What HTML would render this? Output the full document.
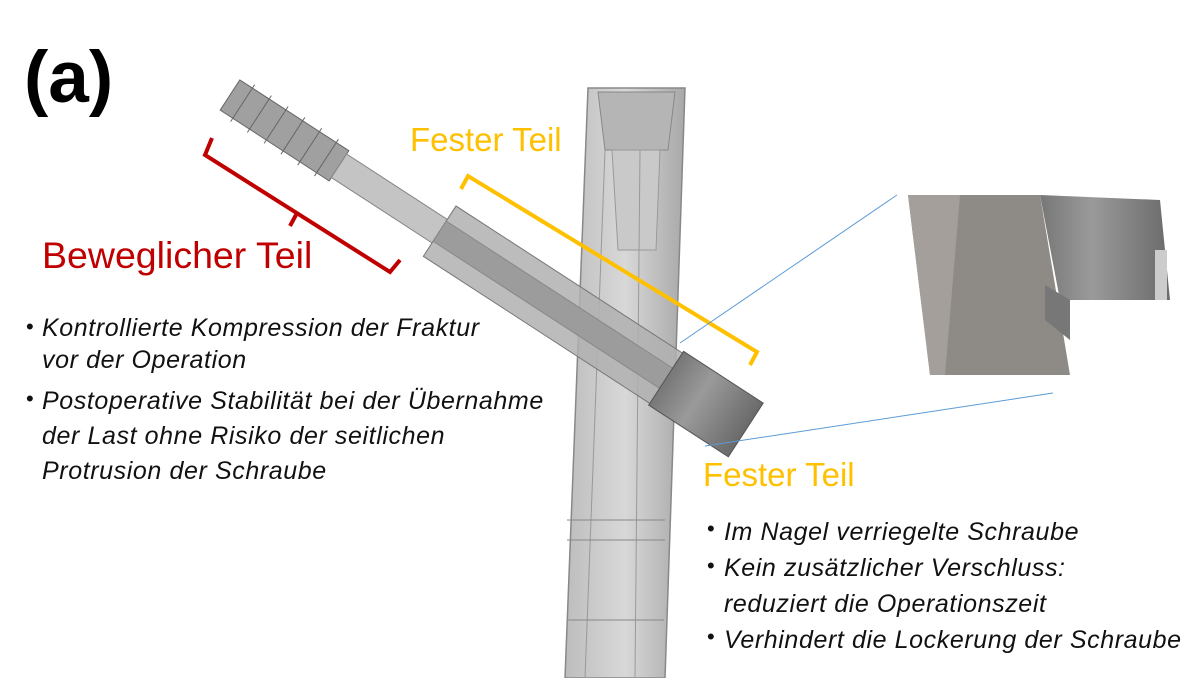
<!DOCTYPE html>
<html><head><meta charset="utf-8"><style>
body{margin:0;width:1204px;height:678px;background:#fff;position:relative;overflow:hidden;font-family:"Liberation Sans",sans-serif}
.t{position:absolute;white-space:nowrap}
.b{font-style:italic;font-size:25px;letter-spacing:0.6px;color:#111;line-height:32px}
.d{position:absolute;font-size:22px;color:#111}
</style></head><body>
<svg width="1204" height="678" style="position:absolute;left:0;top:0">
<defs>
<linearGradient id="g1" x1="0" x2="1"><stop offset="0" stop-color="#bdbdbd"/><stop offset=".5" stop-color="#d8d8d8"/><stop offset="1" stop-color="#a8a8a8"/></linearGradient>
<linearGradient id="g2" x1="0" x2="1"><stop offset="0" stop-color="#777"/><stop offset=".4" stop-color="#9a9a9a"/><stop offset="1" stop-color="#6a6a6a"/></linearGradient>
</defs>
<polygon points="588,88 685,88 665,678 565,678" fill="url(#g1)" stroke="#888" stroke-width="1.5"/>
<polygon points="598,92 675,92 668,150 605,150" fill="#b5b5b5" stroke="#888"/>
<polygon points="612,150 660,150 656,250 618,250" fill="#c9c9c9" stroke="#999"/>
<line x1="605" y1="150" x2="585" y2="678" stroke="#999"/>
<line x1="640" y1="150" x2="635" y2="678" stroke="#999"/>
<line x1="567" y1="520" x2="665" y2="520" stroke="#888"/>
<line x1="567" y1="540" x2="665" y2="540" stroke="#888"/>
<line x1="568" y1="620" x2="664" y2="620" stroke="#888"/>
<g transform="translate(230,95) rotate(33)">
<rect x="0" y="-18" width="130" height="36" fill="#a0a0a0" stroke="#666"/>
<g stroke="#666" fill="none">
<line x1="15" y1="-22" x2="15" y2="22"/><line x1="35" y1="-22" x2="35" y2="22"/><line x1="55" y1="-22" x2="55" y2="22"/><line x1="75" y1="-22" x2="75" y2="22"/><line x1="95" y1="-22" x2="95" y2="22"/><line x1="115" y1="-22" x2="115" y2="22"/>
</g>
<rect x="130" y="-14" width="120" height="28" fill="#c4c4c4" stroke="#888"/>
<rect x="250" y="-30" width="280" height="60" fill="#b0b0b0" fill-opacity=".85" stroke="#777"/>
<rect x="250" y="-12" width="280" height="24" fill="#9c9c9c" stroke="#888"/>
<rect x="520" y="-32" width="95" height="64" fill="url(#g2)" stroke="#555"/>
</g>
<polyline points="212,138 205,155 390,272 400,260" fill="none" stroke="#c00000" stroke-width="4"/>
<line x1="297" y1="213" x2="290" y2="226" stroke="#c00000" stroke-width="4"/>
<polyline points="461,189 468,176 757,352 750,365" fill="none" stroke="#ffc000" stroke-width="4"/>
<line x1="680" y1="343" x2="897" y2="195" stroke="#5b9bd5" stroke-width="1"/>
<line x1="705" y1="446" x2="1053" y2="393" stroke="#5b9bd5" stroke-width="1"/>
<rect x="908" y="195" width="277" height="180" fill="#fff"/>
<polygon points="908,195 1040,195 1070,375 930,375" fill="#8e8a86"/>
<polygon points="908,195 960,195 945,375 930,375" fill="#a49f9a"/>
<polygon points="1040,195 1160,200 1170,300 1060,300" fill="url(#g2)"/>
<rect x="1155" y="250" width="12" height="50" fill="#ccc"/>
<polygon points="1045,285 1070,300 1070,340 1045,320" fill="#777"/>
</svg>
<div class="t" style="left:24px;top:36px;font-size:73px;font-weight:bold;color:#000">(a)</div>
<div class="t" style="left:410px;top:121px;font-size:33px;color:#ffc000">Fester Teil</div>
<div class="t" style="left:42px;top:234px;font-size:37.5px;color:#c00000">Beweglicher Teil</div>
<div class="t" style="left:703px;top:456px;font-size:33px;color:#ffc000">Fester Teil</div>
<div class="d" style="left:26px;top:314px">•</div>
<div class="t b" style="left:42px;top:312px">Kontrollierte Kompression der Fraktur<br>vor der Operation</div>
<div class="d" style="left:26px;top:386px">•</div>
<div class="t b" style="left:42px;top:384px;line-height:35px">Postoperative Stabilität bei der Übernahme<br>der Last ohne Risiko der seitlichen<br>Protrusion der Schraube</div>
<div class="d" style="left:707px;top:516px">•</div>
<div class="d" style="left:707px;top:553px">•</div>
<div class="d" style="left:707px;top:624px">•</div>
<div class="t b" style="left:724px;top:514px;line-height:36px">Im Nagel verriegelte Schraube<br>Kein zusätzlicher Verschluss:<br>reduziert die Operationszeit<br>Verhindert die Lockerung der Schraube</div>
</body></html>
